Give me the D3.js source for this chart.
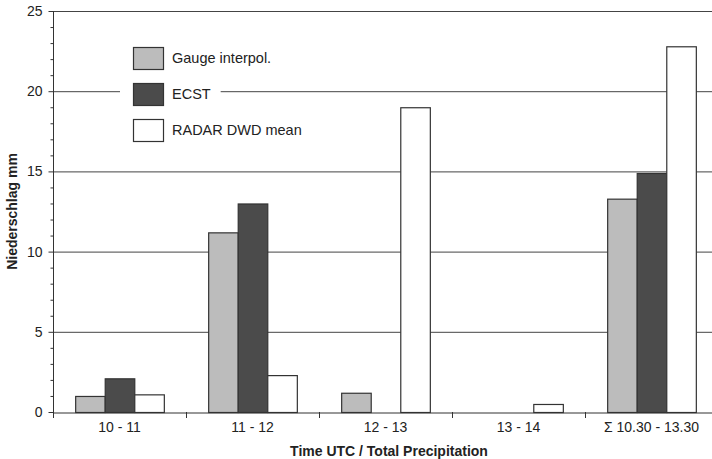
<!DOCTYPE html>
<html>
<head>
<meta charset="utf-8">
<script src="https://cdn.jsdelivr.net/npm/d3@7"></script>
<style>
  body { margin: 0; background: #fff; }
  text { font-family: "Liberation Sans", Arial, sans-serif; fill: #222; }
</style>
</head>
<body>
<div id="chart"></div>
<script>
// data
var categories = ["10 - 11", "11 - 12", "12 - 13", "13 - 14", "\u03A3 10.30 - 13.30"];
var seriesNames = ["Gauge interpol.", "ECST", "RADAR DWD mean"];
var gauge = [1.0, 11.2, 1.2, 0, 13.3];
var ecst  = [2.1, 13.0, 0, 0, 14.9];
var radar = [1.1, 2.3, 19.0, 0.5, 22.8];
var yTicks = [0, 5, 10, 15, 20, 25];
var colors = ["#bcbcbc", "#4b4b4b", "#ffffff"];

var W = 712, H = 459;
var margin = {top: 11, right: -6, bottom: 47, left: 53},
    width = W - margin.left - margin.right,
    height = H - margin.top - margin.bottom;

var svg = d3.select("#chart")
  .append("svg")
    .attr("width", W)
    .attr("height", H)
  .append("g")
    .attr("transform", "translate(" + margin.left + "," + margin.top + ")");

var x = d3.scaleBand()
  .domain(categories)
  .range([0, width]);

var xs = d3.scaleBand()
  .domain(seriesNames)
  .range([x.bandwidth() / 6, x.bandwidth() * 5 / 6]);

var y = d3.scaleLinear()
  .domain([0, 25])
  .range([height, 0]);

// gridlines
svg.selectAll("grid")
  .data(yTicks.slice(1))
  .enter()
  .append("line")
    .attr("x1", 0)
    .attr("x2", width)
    .attr("y1", function(d) { return y(d) + 0.5; })
    .attr("y2", function(d) { return y(d) + 0.5; })
    .attr("stroke", "#444")
    .attr("stroke-width", 1);

// bars
var rows = categories.map(function(c, i) {
  return [gauge[i], ecst[i], radar[i]];
});
var groups = svg.selectAll("grp")
  .data(rows)
  .enter()
  .append("g")
    .attr("transform", function(d, i) { return "translate(" + x(categories[i]) + ",0)"; });

groups.selectAll("rect")
  .data(function(d) { return d.map(function(v, j) { return {v: v, s: seriesNames[j], c: colors[j]}; }); })
  .enter()
  .filter(function(d) { return d.v > 0; })
  .append("rect")
    .attr("x", function(d) { return xs(d.s) + 0.5; })
    .attr("y", function(d) { return y(d.v) + 0.5; })
    .attr("width", xs.bandwidth())
    .attr("height", function(d) { return y(0) - y(d.v); })
    .attr("fill", function(d) { return d.c; })
    .attr("stroke", "#333")
    .attr("stroke-width", 1.2);

// y axis with minor ticks
var yAxis = svg.append("g")
  .call(d3.axisLeft(y).tickValues(yTicks).tickSize(5).tickPadding(6))
  .attr("transform", "translate(0.5,0)");
yAxis.select(".domain").attr("stroke", "#333").attr("d", "M0," + y(25) + "V" + (height + 6));
yAxis.selectAll(".tick line").attr("stroke", "#333");
yAxis.selectAll("text").style("font-size", "14px").attr("fill", "#333");

svg.append("g")
  .attr("transform", "translate(0.5,0)")
  .call(d3.axisLeft(y).tickValues(d3.range(0, 26).filter(function(v) { return v % 5 !== 0; })).tickSize(3).tickFormat(""))
  .call(function(g) { g.select(".domain").remove(); })
  .selectAll("line").attr("stroke", "#333");

// x axis
var xAxis = svg.append("g")
  .attr("transform", "translate(0," + (height + 0.5) + ")")
  .call(d3.axisBottom(x).tickSize(0).tickPadding(10));
xAxis.select(".domain").attr("stroke", "#333").attr("stroke-width", 1.2);
xAxis.selectAll("text").style("font-size", "14px").attr("fill", "#333");

svg.selectAll("xtick")
  .data(categories.slice(1))
  .enter()
  .append("line")
    .attr("x1", function(d) { return Math.round(x(d)) + 0.5; })
    .attr("x2", function(d) { return Math.round(x(d)) + 0.5; })
    .attr("y1", height)
    .attr("y2", height + 6)
    .attr("stroke", "#333");

// axis titles
svg.append("text")
  .attr("x", 336)
  .attr("y", height + 44)
  .attr("text-anchor", "middle")
  .style("font-size", "14px")
  .style("font-weight", "bold")
  .text("Time UTC / Total Precipitation");

svg.append("text")
  .attr("transform", "translate(" + (-36) + "," + (height / 2) + ")rotate(-90)")
  .attr("text-anchor", "middle")
  .style("font-size", "14px")
  .style("font-weight", "bold")
  .text("Niederschlag mm");

// legend
var legend = svg.append("g").attr("transform", "translate(80,36)");
var items = legend.selectAll("item")
  .data(seriesNames)
  .enter()
  .append("g")
    .attr("transform", function(d, i) { return "translate(0," + (i * 36) + ")"; });

items.append("rect")
  .attr("class", "bg")
  .attr("x", -13)
  .attr("y", -4)
  .attr("height", 30)
  .attr("fill", "#fff");

items.append("rect")
  .attr("x", 0.5)
  .attr("y", 0.5)
  .attr("width", 30)
  .attr("height", 22)
  .attr("fill", function(d, i) { return colors[i]; })
  .attr("stroke", "#333")
  .attr("stroke-width", 1.2);

items.append("text")
  .attr("x", 39)
  .attr("y", 11)
  .attr("dy", "0.35em")
  .style("font-size", "14.5px")
  .attr("fill", "#333")
  .text(function(d) { return d; });

items.each(function() {
  var g = d3.select(this);
  var w = g.select("text").node().getComputedTextLength();
  g.select(".bg").attr("width", 13 + 39 + w + 10);
});
</script>
</body>
</html>
